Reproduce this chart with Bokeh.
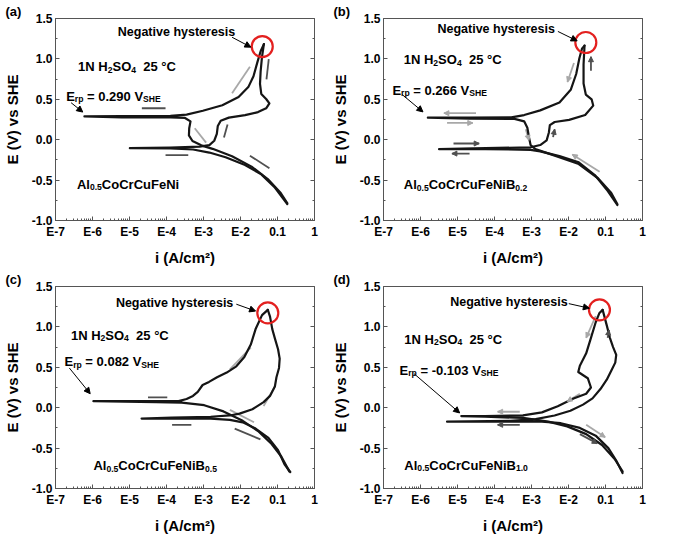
from bokeh.plotting import figure
from bokeh.layouts import gridplot
from bokeh.models import (Range1d, FixedTicker, LinearAxis, LogAxis, Label, Arrow,
                          NormalHead)
from bokeh.embed import file_html
from bokeh.resources import INLINE

# ---------------- data (current as log10(i / A cm^-2), potential E in V vs SHE) -------------
x_tick_values = [1e-7, 1e-6, 1e-5, 1e-4, 1e-3, 1e-2, 1e-1, 1.0]
x_tick_labels = ["E-7", "E-6", "E-5", "E-4", "E-3", "E-2", "0.1", "1"]
y_tick_values = [-1.0, -0.5, 0.0, 0.5, 1.0, 1.5]
y_tick_labels = ["-1.0", "-0.5", "0.0", "0.5", "1.0", "1.5"]

panel_letters = ["(a)", "(b)", "(c)", "(d)"]
alloy_boron = ["", "0.2", "0.5", "1.0"]
erp_values = ["0.290", "0.266", "0.082", "-0.103"]

# (a) Al0.5CoCrCuFeNi
a_fwd_logi = [-0.736, -1.087, -1.438, -1.877, -2.403, -2.842, -3.280, -3.894, -4.991, -3.894, -3.105,
              -2.842, -2.710, -2.640, -2.614, -2.535, -2.315, -1.877, -1.526, -1.307, -1.219, -1.307,
              -1.438, -1.473, -1.456, -1.421, -1.368]
a_fwd_E = [-0.796, -0.584, -0.429, -0.313, -0.217, -0.159, -0.121, -0.109, -0.105, -0.098, -0.086,
           -0.067, -0.013, 0.072, 0.169, 0.234, 0.273, 0.304, 0.342, 0.389, 0.450, 0.504,
           0.566, 0.690, 0.844, 1.017, 1.183]
a_rev_logi = [-1.368, -1.456, -1.543, -1.649, -1.789, -2.052, -2.491, -3.017, -3.456, -3.894, -5.210,
              -6.219, -5.210, -3.894, -3.500, -3.351, -3.386, -3.394, -3.298, -3.061, -2.754, -2.228,
              -1.701, -1.263, -0.912, -0.736]
a_rev_E = [1.183, 1.095, 0.960, 0.786, 0.651, 0.528, 0.427, 0.358, 0.311, 0.296, 0.292,
           0.288, 0.277, 0.277, 0.269, 0.227, 0.142, 0.053, -0.016, -0.070, -0.113, -0.206,
           -0.333, -0.487, -0.661, -0.784]
a_mark_x0 = [-1.745, -1.236, -4.026, -3.237, -2.447, -3.412, -1.219]
a_mark_y0 = [0.902, 0.998, 0.389, 0.142, 0.026, -0.190, -0.352]
a_mark_x1 = [-2.228, -1.298, -4.666, -2.930, -2.350, -4.026, -1.745]
a_mark_y1 = [0.574, 0.747, 0.389, -0.036, 0.188, -0.190, -0.198]
a_mark_tone = ["light", "dark", "dark", "light", "dark", "dark", "dark"]

# (b) Al0.5CoCrCuFeNiB0.2
b_fwd_logi = [-0.681, -0.942, -1.289, -1.723, -2.244, -2.764, -3.025, -4.240, -5.499, -4.240, -3.025,
              -2.764, -2.591, -2.530, -2.504, -2.374, -1.983, -1.549, -1.332, -1.375, -1.532, -1.593,
              -1.593, -1.567]
b_fwd_E = [-0.808, -0.633, -0.437, -0.281, -0.203, -0.144, -0.125, -0.117, -0.117, -0.105, -0.094,
           -0.066, -0.008, 0.090, 0.180, 0.219, 0.246, 0.305, 0.422, 0.500, 0.559, 0.695,
           0.930, 1.164]
b_rev_logi = [-1.567, -1.636, -1.706, -1.792, -1.940, -2.244, -2.764, -3.198, -3.546, -4.674, -5.802,
              -4.674, -3.459, -3.198, -3.112, -3.068, -3.025, -2.895, -2.331, -1.723, -1.202, -0.855,
              -0.681]
b_rev_E = [1.164, 1.125, 1.008, 0.813, 0.617, 0.461, 0.363, 0.305, 0.277, 0.273, 0.273,
           0.262, 0.258, 0.227, 0.148, 0.031, -0.066, -0.117, -0.203, -0.301, -0.477, -0.652,
           -0.797]
b_mark_x0 = [-1.853, -1.393, -4.500, -5.282, -3.155, -2.417, -5.108, -4.674, -1.159]
b_mark_y0 = [0.949, 0.852, 0.328, 0.207, 0.129, 0.031, -0.047, -0.172, -0.398]
b_mark_x1 = [-2.027, -1.393, -5.368, -4.587, -3.068, -2.374, -4.414, -5.151, -1.896]
b_mark_y1 = [0.715, 1.027, 0.328, 0.207, -0.008, 0.129, -0.047, -0.172, -0.183]
b_mark_tone = ["light", "dark", "light", "light", "light", "dark", "dark", "dark", "light"]

# (c) Al0.5CoCrCuFeNiB0.5
c_fwd_logi = [-0.655, -0.811, -0.985, -1.245, -1.592, -1.939, -2.287, -2.807, -3.849, -4.674, -3.849,
              -2.807, -2.287, -2.026, -1.679, -1.375, -1.202, -1.071, -1.028, -0.959, -0.941, -0.985,
              -1.071, -1.141, -1.202, -1.262]
c_fwd_E = [-0.796, -0.700, -0.527, -0.373, -0.258, -0.181, -0.150, -0.135, -0.135, -0.135, -0.123,
           -0.112, -0.096, -0.073, -0.019, 0.069, 0.146, 0.262, 0.377, 0.492, 0.608, 0.723,
           0.858, 0.973, 1.127, 1.211]
c_rev_logi = [-1.262, -1.418, -1.592, -1.722, -1.896, -2.113, -2.373, -2.634, -2.851, -3.024, -3.155,
              -3.285, -3.458, -3.675, -4.283, -5.976, -4.283, -3.589, -2.981, -2.460, -1.939, -1.505,
              -1.158, -0.898, -0.681]
c_rev_E = [1.211, 1.146, 0.973, 0.781, 0.627, 0.512, 0.435, 0.377, 0.319, 0.281, 0.196,
           0.146, 0.108, 0.081, 0.081, 0.081, 0.069, 0.062, 0.031, -0.046, -0.162, -0.296,
           -0.450, -0.604, -0.788]
c_mark_x0 = [-1.722, -1.375, -3.979, -3.328, -2.287, -2.157]
c_mark_y0 = [0.742, 0.019, 0.127, -0.212, -0.027, -0.258]
c_mark_x1 = [-2.287, -1.072, -4.500, -3.849, -1.635, -1.462]
c_mark_y1 = [0.473, 0.262, 0.127, -0.212, -0.181, -0.392]
c_mark_tone = ["light", "light", "dark", "dark", "light", "dark"]

# (d) Al0.5CoCrCuFeNiB1.0
d_fwd_logi = [-0.539, -0.710, -0.923, -1.265, -1.693, -2.206, -2.718, -3.573, -5.283, -3.573, -2.889,
              -2.377, -1.949, -1.607, -1.351, -1.137, -0.966, -0.838, -0.736, -0.710, -0.795, -0.881,
              -0.966, -1.077]
d_fwd_E = [-0.808, -0.654, -0.500, -0.346, -0.250, -0.192, -0.173, -0.173, -0.173, -0.162, -0.142,
           -0.096, -0.038, 0.038, 0.115, 0.231, 0.346, 0.462, 0.558, 0.654, 0.750, 0.865,
           1.019, 1.211]
d_rev_logi = [-1.077, -1.163, -1.265, -1.393, -1.522, -1.693, -1.736, -1.479, -1.393, -1.522, -1.864,
              -2.291, -2.718, -3.231, -4.257, -4.898, -4.257, -3.231, -2.547, -2.035, -1.522, -1.094,
              -0.753, -0.539]
d_rev_E = [1.211, 1.173, 1.058, 0.865, 0.673, 0.519, 0.442, 0.365, 0.250, 0.173, 0.115,
           0.019, -0.058, -0.096, -0.104, -0.104, -0.112, -0.127, -0.173, -0.231, -0.327, -0.462,
           -0.635, -0.788]
d_mark_x0 = [-1.265, -0.941, -1.693, -3.317, -3.317, -1.522, -1.693]
d_mark_y0 = [1.135, 0.865, 0.173, -0.050, -0.212, -0.212, -0.327]
d_mark_x1 = [-1.522, -0.907, -2.035, -3.915, -3.915, -1.009, -1.223]
d_mark_y1 = [0.865, 0.962, 0.077, -0.050, -0.212, -0.365, -0.442]
d_mark_tone = ["light", "dark", "light", "light", "dark", "light", "dark"]

# annotation anchors (log10 i, E) per panel
circle_logi = [-1.412, -1.532, -1.262, -1.163]
circle_E = [1.153, 1.203, 1.173, 1.211]

# ---------------- styling ----------------
FONT = "Liberation Sans"
FIG_W, FIG_H = 328, 268
B_LEFT, B_RIGHT, B_TOP, B_BOTTOM = 50, 14, 18, 46
FH = FIG_H - B_TOP - B_BOTTOM
PPV = FH / 2.5
COL_LIGHT = "#a8a8a8"
COL_DARK = "#505050"
AX_COL = "#555555"
NB = "\u00a0"

ARIAL_BOLD = {' ': 278, NB: 278, '(': 333, ')': 333, '.': 278, '=': 584, '-': 333, '\u00b0': 400,
              '/': 278, 'A': 722, 'B': 722, 'C': 722, 'E': 667, 'F': 611, 'H': 722, 'N': 722,
              'O': 778, 'S': 667, 'V': 667, 'a': 556, 'e': 556, 'i': 278, 'l': 278, 'o': 611,
              'p': 611, 'r': 389, 'u': 611}
for _d in "0123456789":
    ARIAL_BOLD[_d] = 556


def tw(s, size):
    return sum(ARIAL_BOLD.get(ch, 600) for ch in s) * size / 1000.0


def rich_text(p, logx, e_center, parts, size):
    base = e_center - 0.36 * size / PPV
    off = 0.0
    for txt, sub in parts:
        fs = size * 0.66 if sub else size
        yy = base - (0.24 * size / PPV if sub else 0.0)
        p.add_layout(Label(x=10 ** logx, y=yy, x_offset=off, text=txt, text_font=FONT,
                           text_font_style="bold", text_font_size=f"{fs:.1f}px",
                           text_baseline="alphabetic", text_align="left", text_color="black"))
        off += tw(txt, fs)


panels = [
    dict(fwd=(a_fwd_logi, a_fwd_E), rev=(a_rev_logi, a_rev_E),
         marks=(a_mark_x0, a_mark_y0, a_mark_x1, a_mark_y1, a_mark_tone), heads=False,
         hyst=(-5.316, 1.338), harrow=(-2.228, 1.268, -1.719, 1.145),
         sol=(-6.39, 0.96), erp=(-6.711, 0.597), earrow=(-6.579, 0.458, -6.263, 0.342),
         alloy=(-6.421, -0.491)),
    dict(fwd=(b_fwd_logi, b_fwd_E), rev=(b_rev_logi, b_rev_E),
         marks=(b_mark_x0, b_mark_y0, b_mark_x1, b_mark_y1, b_mark_tone), heads=True,
         hyst=(-5.542, 1.367), harrow=(-2.287, 1.340, -1.766, 1.223),
         sol=(-6.453, 1.047), erp=(-6.76, 0.670), earrow=(-6.497, 0.559, -5.933, 0.344),
         alloy=(-6.453, -0.496)),
    dict(fwd=(c_fwd_logi, c_fwd_E), rev=(c_rev_logi, c_rev_E),
         marks=(c_mark_x0, c_mark_y0, c_mark_x1, c_mark_y1, c_mark_tone), heads=False,
         hyst=(-5.368, 1.300), harrow=(-2.113, 1.281, -1.592, 1.196),
         sol=(-6.583, 0.954), erp=(-6.757, 0.627), earrow=(-6.627, 0.492, -6.062, 0.173),
         alloy=(-5.976, -0.662)),
    dict(fwd=(d_fwd_logi, d_fwd_E), rev=(d_rev_logi, d_rev_E),
         marks=(d_mark_x0, d_mark_y0, d_mark_x1, d_mark_y1, d_mark_tone), heads=True,
         hyst=(-5.197, 1.308), harrow=(-1.992, 1.288, -1.436, 1.231),
         sol=(-6.436, 0.904), erp=(-6.565, 0.519), earrow=(-6.180, 0.423, -4.941, -0.065),
         alloy=(-6.436, -0.654)),
]

x_minor = [m * 10.0 ** d for d in range(-7, 0) for m in range(2, 10)]
y_minor = [-0.75, -0.25, 0.25, 0.75, 1.25]


def style_axis(ax, show_labels):
    ax.axis_line_color = AX_COL
    ax.major_tick_line_color = AX_COL
    ax.minor_tick_line_color = AX_COL
    ax.major_tick_in = 4
    ax.major_tick_out = 0
    ax.minor_tick_in = 2
    ax.minor_tick_out = 0
    ax.major_label_text_font = FONT
    ax.major_label_text_font_style = "bold"
    ax.major_label_text_color = "black"
    ax.axis_label_text_font = FONT
    ax.axis_label_text_font_style = "bold"
    ax.axis_label_text_font_size = "15px"
    ax.axis_label_text_color = "black"
    ax.major_label_text_font_size = "12px"
    if not show_labels:
        ax.major_label_overrides = {v: " " for v in ax.ticker.ticks}
        ax.major_label_text_font_size = "1px"
        ax.major_label_standoff = 0


def make_panel(k, cfg):
    p = figure(width=FIG_W, height=FIG_H, x_axis_type="log",
               x_range=Range1d(1e-7, 1.0), y_range=Range1d(-1.0, 1.5),
               output_backend="svg", toolbar_location=None,
               min_border_left=B_LEFT, min_border_right=B_RIGHT,
               min_border_top=B_TOP, min_border_bottom=B_BOTTOM)
    p.grid.visible = False
    p.outline_line_color = AX_COL
    p.background_fill_color = "white"

    # panel letter as a left-aligned title shifted over the y-axis area
    p.title.text = panel_letters[k]
    p.title.align = "left"
    p.title.offset = -B_LEFT
    p.title.standoff = 0
    p.title.text_font = FONT
    p.title.text_font_style = "bold"
    p.title.text_font_size = "13px"
    p.title.text_color = "black"

    p.xaxis.ticker = FixedTicker(ticks=x_tick_values, minor_ticks=x_minor)
    p.yaxis.ticker = FixedTicker(ticks=y_tick_values, minor_ticks=y_minor)
    p.xaxis.major_label_overrides = {v: l for v, l in zip(x_tick_values, x_tick_labels)}
    p.yaxis.major_label_overrides = {v: l for v, l in zip(y_tick_values, y_tick_labels)}
    p.xaxis.axis_label = "i (A/cm\u00b2)"
    p.yaxis.axis_label = "E (V) vs SHE"
    style_axis(p.xaxis[0], True)
    style_axis(p.yaxis[0], True)
    p.xaxis.major_label_standoff = 4
    p.xaxis.axis_label_standoff = 7
    p.yaxis.major_label_standoff = 3
    p.yaxis.axis_label_standoff = 8

    right = LinearAxis(ticker=FixedTicker(ticks=y_tick_values, minor_ticks=y_minor))
    style_axis(right, False)
    p.add_layout(right, "right")

    # marks (direction indicators)
    mx0, my0, mx1, my1, tone = cfg["marks"]
    for t, col in (("light", COL_LIGHT), ("dark", COL_DARK)):
        idx = [j for j, v in enumerate(tone) if v == t]
        if not idx:
            continue
        xs = [[10 ** mx0[j], 10 ** mx1[j]] for j in idx]
        ys = [[my0[j], my1[j]] for j in idx]
        p.multi_line(xs=xs, ys=ys, line_color=col, line_width=1.8)
        if cfg["heads"]:
            for j in idx:
                p.add_layout(Arrow(x_start=10 ** mx0[j], y_start=my0[j], x_end=10 ** mx1[j],
                                   y_end=my1[j], line_alpha=0,
                                   end=NormalHead(size=5, fill_color=col, line_color=col)))

    # polarization curves
    for key in ("fwd", "rev"):
        lx, ly = cfg[key]
        p.line(x=[10 ** v for v in lx], y=ly, line_color="#151515", line_width=2.2,
               line_join="round", line_cap="round")

    # red circle marking negative hysteresis
    p.scatter(x=[10 ** circle_logi[k]], y=[circle_E[k]], marker="circle", size=21,
              fill_color=None, line_color="#e3201f", line_width=2.2)

    # texts
    hx, hy = cfg["hyst"]
    p.add_layout(Label(x=10 ** hx, y=hy, text="Negative hysteresis", text_font=FONT,
                       text_font_style="bold", text_font_size="12.5px", text_baseline="middle",
                       text_color="black"))
    ax0, ay0, ax1, ay1 = cfg["harrow"]
    p.add_layout(Arrow(x_start=10 ** ax0, y_start=ay0, x_end=10 ** ax1, y_end=ay1,
                       line_width=1, line_color="black",
                       end=NormalHead(size=6, fill_color="black", line_color="black")))

    sx, sy = cfg["sol"]
    rich_text(p, sx, sy, [("1N" + NB + "H", False), ("2", True), ("SO", False), ("4", True),
                          (NB + NB + "25" + NB + "\u00b0C", False)], 13)
    ex, ey = cfg["erp"]
    rich_text(p, ex, ey, [("E", False), ("rp", True),
                          (NB + "=" + NB + erp_values[k] + NB + "V", False), ("SHE", True)], 13)
    bx0, by0, bx1, by1 = cfg["earrow"]
    p.add_layout(Arrow(x_start=10 ** bx0, y_start=by0, x_end=10 ** bx1, y_end=by1,
                       line_width=1, line_color="black",
                       end=NormalHead(size=6, fill_color="black", line_color="black")))
    lx, ly = cfg["alloy"]
    parts = [("Al", False), ("0.5", True), ("CoCrCuFeNi", False)]
    if alloy_boron[k]:
        parts += [("B", False), (alloy_boron[k], True)]
    rich_text(p, lx, ly, parts, 13)
    return p


figs = [make_panel(k, cfg) for k, cfg in enumerate(panels)]
grid = gridplot([[figs[0], figs[1]], [figs[2], figs[3]]], toolbar_location=None)

open("out.html", "w").write(file_html(grid, INLINE))
